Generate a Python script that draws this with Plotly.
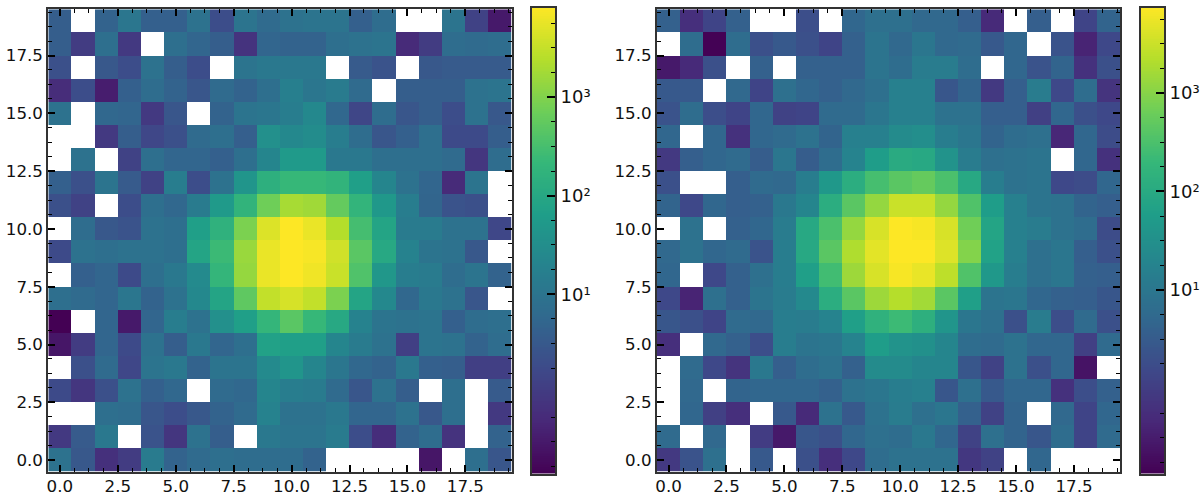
import numpy as np
import plotly.graph_objects as go

N = None
# cell values, first row is y=19, last row is y=0
PANEL_A = [
 [3.8,N,4.7,11,4.2,4.2,9,2,10,6.5,9,10,10,4.2,7.2,N,N,10,1.3,.32],
 [3.8,1.05,8,.95,N,8,5.2,3.8,.76,5.2,4.7,4.7,8,9,10,.56,1.05,7.2,6.5,7.2],
 [2.2,N,3.1,2,9,3.8,2,N,10,12,12,12,N,3.4,2.5,N,3.1,3.4,3.4,3.4],
 [.6,2,.36,4.2,7.2,4.7,2.8,6.5,4.7,8,17,11,14,6.5,N,3.8,3.8,3.8,9,10],
 [9,N,5.8,5.2,.95,2.8,N,4.7,10,11,15,25,5.8,1.5,7.2,2.8,3.8,2,9,3.1],
 [N,N,.95,3.8,1.6,2.2,6.5,8,4,35,25,30,15,7.2,2.8,4.2,8,1.8,1.8,3.8],
 [N,9,N,1.3,8,5.2,5.2,4.2,8,22,55,55,12,12,8,8,8,6.5,.86,7.2],
 [4.2,2.2,10,3.4,1.3,15,2,9,43,145,220,220,180,68,22,9,5.2,.56,10,N],
 [2.2,1.3,N,2,8,5.8,14,55,180,720,1900,1700,580,190,50,15,5,2.5,2.2,N],
 [N,7.2,3.1,2.5,9,8,68,160,900,4700,8100,5900,2400,300,85,14,14,9,9,1.6],
 [1.8,9,8,9,9,8,85,245,1500,5900,8100,7300,3800,470,105,19,10,9,3.1,N],
 [N,4.2,5.2,1.8,8,12,27,200,1400,5900,8100,6500,3400,380,48,15,14,7.2,10,4.7],
 [8,6.5,5.2,11,4.7,9,25,85,520,3000,4200,3000,900,85,25,5.8,12,9,2.8,N],
 [.15,N,5.2,.32,5.2,15,9,35,68,200,470,220,105,19,10,9,10,4.2,7.2,8],
 [.29,1.05,5.2,1.8,9,3.8,12,5.2,8,75,68,68,22,14,9,1.2,10,9,4.7,7.2],
 [N,2.2,6.5,1.6,10,12,4.7,10,10,27,43,22,11,5.8,4.7,12,4.2,3.8,1.2,1.2],
 [1.8,.86,2.2,9,4.2,5.8,N,6.5,5.8,22,15,14,6.5,2.8,9,3.8,N,8,N,3.4],
 [N,N,8,7.2,2.8,2,3.1,4.7,6.5,19,9,9,12,5.2,5.2,9,3.1,8,N,.95],
 [.95,3.4,12,N,2.5,.86,9,3.8,N,12,10,10,14,2,.62,4.7,7.2,.76,N,4.7],
 [9,3.1,.69,1.05,14,4.7,6.5,8,7.2,7.2,7.2,4.7,N,N,N,N,.29,N,8,2.8],
]
PANEL_B = [
 [4,.6,1.3,4,N,N,1.9,N,5,7.4,7.4,5.4,5.4,3.6,.5,N,3.6,N,1.3,4.5],
 [N,6.6,.14,6.6,2,2.9,2,1.3,4,9.2,5.4,10,5.4,6,2.9,5,N,2.3,.4,1.5],
 [.29,.5,2,N,4,N,4,4,4,9.2,6.6,13,13,6.6,N,5,2.3,4.5,.65,2],
 [2.9,2.9,N,5.4,1.3,7.4,5,4,5.4,7.4,16,16,2.6,4.5,.87,3.6,13,1.5,6.6,.7],
 [2.3,6.6,1.9,1.3,5,1.2,1.3,6,6,10,16,16,8.2,8.2,3.6,3.6,1.1,5,2,1.5],
 [5,N,5,.65,5,6,8.2,4.5,16,16,26,29,14,10,4.5,6.6,7.4,.45,5,1.7],
 [.87,3.6,5,6,3.3,10,3.3,6.6,18,55,105,95,36,13,7.4,8.2,9.2,N,5,.65],
 [2,N,N,3.6,6,5.4,14,45,118,280,430,540,310,95,14,8.2,9.2,1.5,1.7,5],
 [4.5,1.5,5,3.6,4,11,20,118,430,1250,3100,3100,1250,350,55,16,9.2,8.2,4.5,3.6],
 [N,8.2,N,4,5,13,95,310,1250,3900,7400,6700,3900,670,78,16,13,8.2,6.6,1.7],
 [5.4,8.2,5,6,2.3,14,95,430,2000,4800,7400,7400,4300,930,70,16,7.4,10,3.6,2],
 [5,N,1.5,4,7.4,14,62,250,1450,3900,6700,5300,2500,350,45,14,7.4,10,4,3.6],
 [1.5,.4,7.4,4,9.2,13,23,118,430,1450,2200,1600,430,62,9.2,10,5,4,3.6,2.6],
 [2.6,2,1.3,6,5.4,14,13,18,62,145,225,130,40,10,7.4,2,13,1.9,6,2],
 [.6,N,5.4,4,1.9,14,9.2,10,18,55,36,32,20,6.6,6,8.2,5,5,1.1,6],
 [N,6,1.5,.7,11,3.6,6.6,8.2,4,26,26,20,20,2.6,1.2,8.2,2,5,.24,N],
 [N,5.4,N,4.5,5,5,5,4,8.2,10,14,16,2.6,7.4,2.9,5,5,.65,1.9,4],
 [N,5,1.1,.6,N,2.9,.5,8.2,2.9,8.2,13,7.4,10,4,1.2,4.5,N,5.4,1.3,5],
 [6,N,5.4,N,.97,.29,2.6,2,5,7.4,6.6,11,5,1.2,7.4,4.5,2.6,6.6,1.3,6],
 [.87,2.3,7.4,N,2.9,N,2,.6,1.5,6.6,8.2,8.2,8.2,.8,1.2,N,5,N,N,N],
]
COLS = list(range(20))
ROWS = list(range(19, -1, -1))
# log10 limits of each colour scale
LIMITS_A = (-0.82, 3.91)
LIMITS_B = (-0.864, 3.868)
CB_MAJOR = [1, 2, 3]
CB_LABELS = ["10\u00b9", "10\u00b2", "10\u00b3"]
CB_MINOR = [-0.75, -0.5, -0.25, 0.25, 0.5, 0.75, 1.25, 1.5, 1.75, 2.25, 2.5, 2.75, 3.25, 3.5, 3.75]

W, H = 1204, 501
TOP, BOTTOM = 9.3, 471.7
SPINE = "#333333"
FONT = dict(family="DejaVu Sans", size=16.7, color="#111111")
CB_FONT = dict(family="DejaVu Sans", size=18, color="#111111")

def log_grid(rows):
    return np.log10(np.array(rows, dtype=float))

def xdom(a, b):
    return [a / W, b / W]

def ydom(top, bottom):
    return [(H - bottom) / H, (H - top) / H]

fig = go.Figure()
layout = dict(width=W, height=H, autosize=False,
              margin=dict(l=0, r=0, t=0, b=0, pad=0, autoexpand=False),
              paper_bgcolor="white", plot_bgcolor="white", font=FONT, showlegend=False)

panels = [
    ("", PANEL_A, LIMITS_A, (48.3, 511.7), (532, 555)),
    ("2", PANEL_B, LIMITS_B, (657.0, 1120.3), (1141, 1164)),
]
cb_ids = ["3", "4"]

def main_axis(dom, other, standoff=0):
    return dict(domain=dom, range=[-0.5, 19.5], tick0=0, dtick=2.5, tickformat=".1f",
                ticks="inside", ticklen=7, tickwidth=2, tickcolor="black",
                showline=True, linewidth=2, linecolor=SPINE, mirror="ticks",
                showgrid=False, zeroline=False, anchor=other, tickfont=FONT,
                automargin=False, ticklabelstandoff=standoff,
                minor=dict(ticks="inside", ticklen=4, tickwidth=1, tickcolor="black",
                           tick0=0, dtick=0.625, showgrid=False))

for (sid, data, lim, xr, cbx), cid in zip(panels, cb_ids):
    fig.add_trace(go.Heatmap(z=log_grid(data), x=COLS, y=ROWS, colorscale="Viridis",
                             zmin=lim[0], zmax=lim[1], showscale=False,
                             xaxis="x" + sid, yaxis="y" + sid, hoverongaps=False))
    layout["xaxis" + sid] = main_axis(xdom(*xr), "y" + sid, standoff=-2)
    layout["yaxis" + sid] = main_axis(ydom(TOP, BOTTOM), "x" + sid)

    levels = np.linspace(lim[0], lim[1], 256)
    fig.add_trace(go.Heatmap(z=levels.reshape(-1, 1), x=[0], y=levels, colorscale="Viridis",
                             zmin=lim[0], zmax=lim[1], showscale=False,
                             xaxis="x" + cid, yaxis="y" + cid))
    layout["xaxis" + cid] = dict(domain=xdom(*cbx), range=[-0.5, 0.5], showticklabels=False,
                                 ticks="", showgrid=False, zeroline=False, showline=True,
                                 linewidth=2, linecolor=SPINE, mirror=True, anchor="y" + cid,
                                 automargin=False)
    layout["yaxis" + cid] = dict(domain=ydom(7.5, 473.5), range=list(lim), side="right",
                                 tickmode="array", tickvals=CB_MAJOR, ticktext=CB_LABELS,
                                 ticks="inside", ticklen=8, tickwidth=2, tickcolor="black",
                                 showline=True, linewidth=2, linecolor=SPINE, mirror=True,
                                 showgrid=False, zeroline=False, anchor="x" + cid, tickfont=CB_FONT,
                                 automargin=False,
                                 minor=dict(ticks="inside", ticklen=4, tickwidth=1, tickcolor="black",
                                            tickmode="array", tickvals=CB_MINOR, showgrid=False))

fig.update_layout(**layout)
fig.write_html("out.html", post_script="document.body.style.margin='0';",
               config=dict(displayModeBar=False))
